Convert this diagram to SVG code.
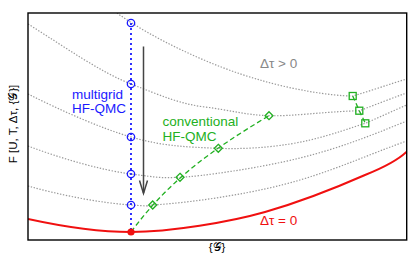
<svg xmlns="http://www.w3.org/2000/svg" width="415" height="261" viewBox="0 0 415 261">
<defs>
<style>
text{font-family:"Liberation Sans",Arial,sans-serif;font-size:13.5px}
.cal{font-family:"DejaVu Sans","DejaVu Serif",serif}
.g{fill:none;stroke:#999;stroke-width:1.2;stroke-dasharray:1.4 1.6}
.blue{fill:#1a1aff}
.grn{fill:#22b022}
.circ{fill:none;stroke:#1a1aff;stroke-width:1.3}
.dia{fill:none;stroke:#22b022;stroke-width:1.3}
</style>
<clipPath id="frame"><rect x="28" y="13" width="378.7" height="227"/></clipPath>
</defs>
<rect x="0" y="0" width="415" height="261" fill="#fff"/>
<g id="connectors" clip-path="url(#frame)">
<path class="g" d="M117,13 C150,37 210,66 260,80 C290,89 330,96 352.7,96 C370,91 390,84 406.7,79"/>
<path class="g" d="M28,24 C65,47 100,72 131,84 S180,104 205,107 S245,115 269,115.7 S320,112 359.3,110.7 C375,105 392,98 406.7,93"/>
<path class="g" d="M28,94 C60,110 100,128 131,137 S185,147 218.3,148.3 S285,146 310,140 S350,128 365.3,123.3 C380,117 395,110 406.7,105"/>
<path class="g" d="M28,146 C60,158 100,170 131,174 S160,178 180,177.3 S260,168 300,158 S370,136 406.7,121"/>
<path class="g" d="M28,186 C60,195 100,203 131,205 S145,205.5 152.7,205 C200,202 260,192 300,180 S370,154 406.7,141"/>
<path d="M28,219 C60,226 100,232 131,232 C170,232 230,222 265,212 C300,202 340,186 365,175 C385,167 398,160 406.7,151.7" fill="none" stroke="#f01010" stroke-width="2"/>
<line x1="131" y1="23" x2="131" y2="232" stroke="#1a1aff" stroke-width="1.8" stroke-dasharray="2 3"/>
<path d="M131,232 C171,178 214,148.7 269,115.7" fill="none" stroke="#22b022" stroke-width="1.3" stroke-dasharray="5 3"/>
<path d="M352.7,96 L359.3,110.7 L365.3,123.3" fill="none" stroke="#22b022" stroke-width="1.3" stroke-dasharray="5 3"/>
<line x1="143.5" y1="46.5" x2="143.5" y2="193" stroke="#444" stroke-width="1.5"/>
<path d="M139.5,180.5 L143.5,193.5 L147.5,180.5" fill="none" stroke="#444" stroke-width="1.5"/>
</g>
<g id="multigrid-points">
<circle class="circ" cx="131" cy="23" r="3.7"/>
<circle class="circ" cx="131" cy="84" r="3.7"/>
<circle class="circ" cx="131" cy="137" r="3.7"/>
<circle class="circ" cx="131" cy="174" r="3.7"/>
<circle class="circ" cx="131" cy="205" r="3.7"/>
</g>
<g id="conventional-points">
<path class="dia" d="M152.7,201 L156.7,205 L152.7,209 L148.7,205 Z"/>
<path class="dia" d="M180,173.3 L184,177.3 L180,181.3 L176,177.3 Z"/>
<path class="dia" d="M218.3,144.3 L222.3,148.3 L218.3,152.3 L214.3,148.3 Z"/>
<path class="dia" d="M269,111.7 L273,115.7 L269,119.7 L265,115.7 Z"/>
<rect class="dia" x="349.2" y="92.5" width="7" height="7"/>
<rect class="dia" x="355.8" y="107.2" width="7" height="7"/>
<rect class="dia" x="361.8" y="119.8" width="7" height="7"/>
</g>
<g id="minimum">
<circle cx="131" cy="232" r="3.6" fill="#f01010"/>
</g>
<g id="axes">
<rect x="28" y="13" width="378.7" height="227" fill="none" stroke="#000" stroke-width="1.4"/>
<text transform="translate(17,124) rotate(-90)" text-anchor="middle" style="font-size:11.5px">F [U, T, Δτ, {<tspan class="cal">𝒢</tspan>}]</text>
<text x="217" y="251" text-anchor="middle" style="font-size:11.5px">{<tspan class="cal">𝒢</tspan>}</text>
</g>
<g id="labels">
<text class="blue" x="72" y="98.5">multigrid</text>
<text class="blue" x="72" y="113">HF-QMC</text>
<text class="grn" x="162.5" y="126">conventional</text>
<text class="grn" x="162.5" y="141">HF-QMC</text>
<text x="260" y="68" fill="#888">Δτ &gt; 0</text>
<text x="260" y="225" fill="#f01010">Δτ = 0</text>
</g>
</svg>
